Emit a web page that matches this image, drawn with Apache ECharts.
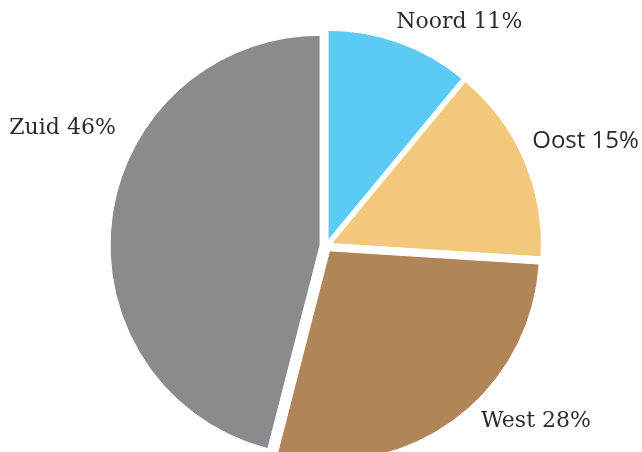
<!DOCTYPE html>
<html>
<head>
<meta charset="utf-8">
<script src="https://cdn.jsdelivr.net/npm/echarts@6/dist/echarts.min.js"></script>
<style>
  html, body { margin: 0; padding: 0; background: #fff; }
  #chart { width: 642px; height: 452px; }
</style>
</head>
<body>
<div id="chart"></div>
<script>
// regio's en aandeel (%)
const regions = ['Noord', 'Oost', 'West', 'Zuid'];
const shares = [11, 15, 28, 46];
const colors = ['#5bcbf5', '#f2c87d', '#b08558', '#8a8b8f'];

// verschuiving van de labels t.o.v. de standaardplek
const labelShift = [[-12, -9], [-8, -14], [16, -9], [21, -89]];
// Oost staat in het origineel in een schreefloze letter
const labelFont = ['DejaVu Serif', 'Open Sans', 'DejaVu Serif', 'DejaVu Serif'];
const labelSize = [22, 24, 22, 22];

const myChart = echarts.init(document.getElementById('chart'));

const option = {
  animation: false,
  series: [{
    type: 'pie',
    center: [326, 246],
    radius: [0, 210],
    startAngle: 90,
    clockwise: true,
    selectedMode: 'multiple',
    selectedOffset: 6,
    itemStyle: { borderColor: '#fff', borderWidth: 1 },
    label: {
      show: true,
      position: 'outside',
      formatter: p => p.name + ' ' + p.value + '%',
      fontFamily: 'DejaVu Serif',
      fontSize: 22,
      color: '#2b2b2b',
      overflow: 'none'
    },
    labelLine: { show: false, length: 12, length2: 0 },
    labelLayout: p => ({ dx: labelShift[p.dataIndex][0], dy: labelShift[p.dataIndex][1] }),
    data: regions.map((name, i) => ({
      name: name,
      value: shares[i],
      selected: true,
      itemStyle: { color: colors[i] },
      label: { fontFamily: labelFont[i], fontSize: labelSize[i] }
    }))
  }]
};

myChart.setOption(option);
</script>
</body>
</html>
